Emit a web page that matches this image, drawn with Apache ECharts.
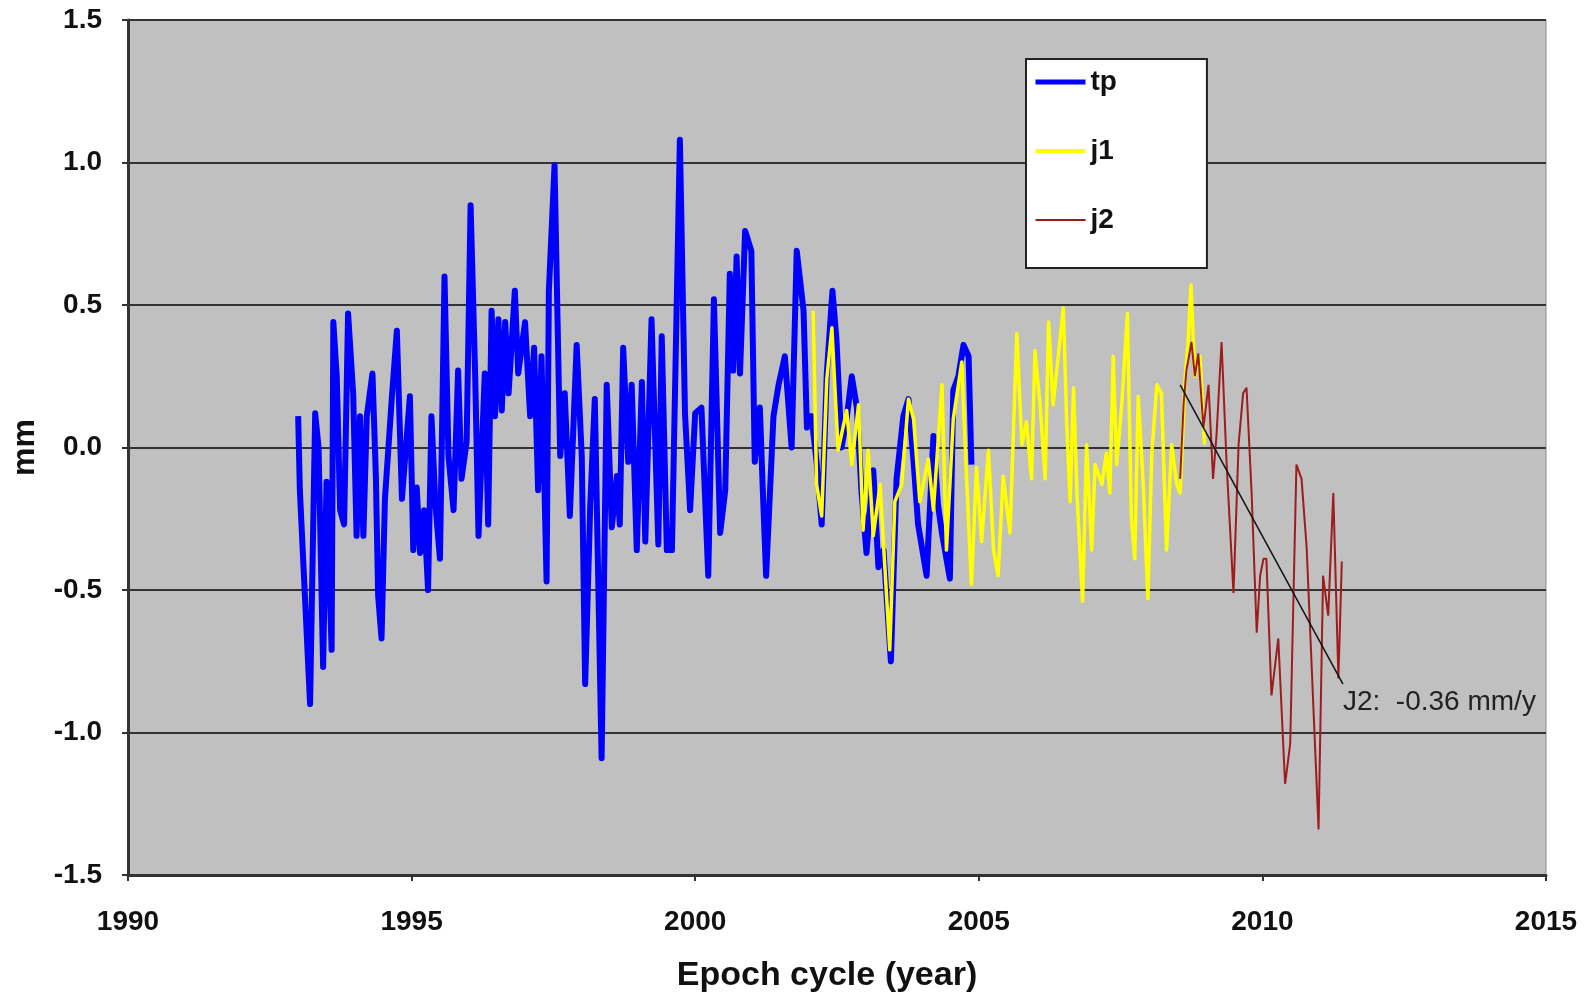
<!DOCTYPE html>
<html>
<head>
<meta charset="utf-8">
<title>Epoch cycle</title>
<script src="https://cdn.jsdelivr.net/npm/echarts@6/dist/echarts.min.js"></script>
<style>
  html, body { margin: 0; padding: 0; background: #fff; }
  #chart { width: 1585px; height: 992px; }
</style>
</head>
<body>
<div id="chart"></div>
<script>
// values (year, mm)
const tpX = [1993.00, 1993.03, 1993.21, 1993.30, 1993.36, 1993.44, 1993.50, 1993.59, 1993.62, 1993.68,
  1993.74, 1993.81, 1993.88, 1993.97, 1994.03, 1994.09, 1994.15, 1994.21, 1994.31, 1994.37,
  1994.41, 1994.47, 1994.53, 1994.65, 1994.74, 1994.83, 1994.97, 1995.03, 1995.09, 1995.15,
  1995.22, 1995.29, 1995.35, 1995.42, 1995.50, 1995.58, 1995.65, 1995.74, 1995.82, 1995.88,
  1995.97, 1996.04, 1996.12, 1996.18, 1996.29, 1996.35, 1996.41, 1996.47, 1996.53, 1996.59,
  1996.65, 1996.71, 1996.82, 1996.88, 1997.00, 1997.09, 1997.16, 1997.23, 1997.29, 1997.38,
  1997.42, 1997.52, 1997.62, 1997.70, 1997.79, 1997.91, 1998.00, 1998.06, 1998.15, 1998.23,
  1998.35, 1998.44, 1998.53, 1998.62, 1998.67, 1998.73, 1998.82, 1998.88, 1998.97, 1999.06,
  1999.12, 1999.23, 1999.35, 1999.41, 1999.50, 1999.59, 1999.73, 1999.82, 1999.91, 2000.00,
  2000.11, 2000.23, 2000.33, 2000.44, 2000.53, 2000.61, 2000.67, 2000.73, 2000.79, 2000.88,
  2000.99, 2001.05, 2001.14, 2001.19, 2001.25, 2001.38, 2001.47, 2001.58, 2001.70, 2001.79,
  2001.91, 2001.97, 2002.05, 2002.14, 2002.23, 2002.32, 2002.42, 2002.49, 2002.58, 2002.67,
  2002.76, 2002.85, 2002.93, 2003.02, 2003.14, 2003.23, 2003.32, 2003.45, 2003.55, 2003.67,
  2003.76, 2003.85, 2003.93, 2004.08, 2004.20, 2004.28, 2004.35, 2004.49, 2004.55, 2004.64,
  2004.73, 2004.82, 2004.87];
const tpY = [0.11, -0.15, -0.90, 0.12, 0.00, -0.77, -0.12, -0.71, 0.44, 0.25,
  -0.22, -0.27, 0.47, 0.19, -0.31, 0.11, -0.31, 0.11, 0.26, -0.10,
  -0.52, -0.67, -0.18, 0.17, 0.41, -0.18, 0.18, -0.36, -0.14, -0.37,
  -0.22, -0.50, 0.11, -0.20, -0.39, 0.60, -0.03, -0.22, 0.27, -0.11,
  0.02, 0.85, 0.26, -0.31, 0.26, -0.27, 0.48, 0.11, 0.45, 0.13,
  0.44, 0.19, 0.55, 0.26, 0.44, 0.11, 0.35, -0.15, 0.32, -0.47,
  0.55, 0.99, -0.03, 0.19, -0.24, 0.36, -0.03, -0.83, -0.20, 0.17,
  -1.09, 0.22, -0.28, -0.10, -0.27, 0.35, -0.05, 0.22, -0.36, 0.23,
  -0.33, 0.45, -0.34, 0.39, -0.36, -0.36, 1.08, 0.12, -0.22, 0.12,
  0.14, -0.45, 0.52, -0.30, -0.15, 0.61, 0.27, 0.67, 0.26, 0.76,
  0.69, -0.05, 0.14, -0.14, -0.45, 0.11, 0.22, 0.32, 0.00, 0.69,
  0.48, 0.07, 0.11, -0.05, -0.27, 0.26, 0.55, 0.38, 0.00, 0.10,
  0.25, 0.14, -0.15, -0.37, -0.08, -0.42, -0.36, -0.75, -0.11, 0.11,
  0.17, -0.05, -0.27, -0.45, 0.04, -0.20, -0.30, -0.46, 0.20, 0.25,
  0.36, 0.32, -0.06];

const j1X = [2002.08, 2002.14, 2002.23, 2002.32, 2002.41, 2002.52, 2002.67, 2002.76, 2002.88, 2002.96,
  2003.05, 2003.14, 2003.26, 2003.32, 2003.43, 2003.52, 2003.64, 2003.76, 2003.85, 2003.96,
  2004.11, 2004.20, 2004.35, 2004.43, 2004.55, 2004.70, 2004.79, 2004.87, 2004.96, 2005.05,
  2005.17, 2005.26, 2005.34, 2005.43, 2005.55, 2005.67, 2005.76, 2005.84, 2005.93, 2005.99,
  2006.08, 2006.17, 2006.23, 2006.31, 2006.40, 2006.49, 2006.55, 2006.61, 2006.67, 2006.73,
  2006.83, 2006.90, 2006.99, 2007.05, 2007.17, 2007.25, 2007.31, 2007.37, 2007.43, 2007.52,
  2007.62, 2007.69, 2007.75, 2007.81, 2007.90, 2007.98, 2008.05, 2008.14, 2008.22, 2008.31,
  2008.40, 2008.49, 2008.55, 2008.64, 2008.69, 2008.74, 2008.81, 2008.90, 2008.98];
const j1Y = [0.48, -0.13, -0.24, 0.24, 0.42, -0.01, 0.13, -0.06, 0.15, -0.29,
  -0.01, -0.31, -0.13, -0.34, -0.71, -0.19, -0.13, 0.17, 0.10, -0.19,
  -0.04, -0.22, 0.22, -0.36, 0.10, 0.30, -0.13, -0.48, -0.07, -0.33,
  -0.01, -0.36, -0.45, -0.10, -0.30, 0.40, 0.01, 0.09, -0.11, 0.34,
  0.15, -0.11, 0.44, 0.15, 0.32, 0.49, 0.08, -0.19, 0.21, -0.16,
  -0.54, 0.01, -0.36, -0.06, -0.13, -0.02, -0.16, 0.32, -0.06, 0.15,
  0.47, -0.25, -0.39, 0.18, -0.13, -0.53, -0.02, 0.22, 0.19, -0.36,
  0.01, -0.13, -0.16, 0.25, 0.37, 0.57, 0.25, 0.32, 0.01];

const j2X = [2008.55, 2008.61, 2008.66, 2008.75, 2008.81, 2008.87, 2008.96, 2009.05, 2009.13, 2009.19,
  2009.28, 2009.37, 2009.49, 2009.58, 2009.66, 2009.72, 2009.81, 2009.90, 2009.96, 2010.02,
  2010.07, 2010.16, 2010.28, 2010.40, 2010.49, 2010.60, 2010.69, 2010.78, 2010.99, 2011.07,
  2011.16, 2011.25, 2011.34, 2011.40];
const j2Y = [-0.11, 0.15, 0.27, 0.37, 0.25, 0.33, 0.07, 0.22, -0.11, 0.04,
  0.37, -0.06, -0.51, 0.01, 0.19, 0.21, -0.16, -0.65, -0.45, -0.39,
  -0.39, -0.87, -0.67, -1.18, -1.04, -0.06, -0.11, -0.35, -1.34, -0.45,
  -0.59, -0.16, -0.81, -0.40];

// linear fit drawn over j2
const trendX = [2008.55, 2011.42];
const trendY = [0.22, -0.83];
const trendLabel = 'J2:  -0.36 mm/y';

const xTicks = { min: 1990, max: 2015, step: 5 };
const yTicks = { min: -1.5, max: 1.5, step: 0.5 };

function pairs(xs, ys) {
  return xs.map((x, i) => [x, ys[i]]);
}

const font = "'Liberation Sans', Arial, Helvetica, sans-serif";

const chart = echarts.init(document.getElementById('chart'));
chart.setOption({
  animation: false,
  backgroundColor: '#ffffff',
  textStyle: { fontFamily: font, color: '#000' },
  grid: {
    left: 128,
    right: 39,
    top: 20,
    bottom: 117,
    containLabel: false,
    outerBoundsMode: 'none',
    show: true,
    backgroundColor: '#c0c0c0',
    borderColor: '#8a8a8a',
    borderWidth: 1
  },
  legend: {
    orient: 'vertical',
    left: 1026,
    top: 59,
    data: [
      { name: 'tp', lineStyle: { width: 5 } },
      { name: 'j1', lineStyle: { width: 4 } },
      { name: 'j2', lineStyle: { width: 2 } }
    ],
    itemWidth: 50,
    itemHeight: 10,
    itemGap: 39,
    padding: [8, 90, 33, 7],
    itemStyle: { opacity: 0 },
    backgroundColor: '#ffffff',
    borderColor: '#222',
    borderWidth: 2,
    textStyle: { fontFamily: font, fontWeight: 'bold', fontSize: 28, lineHeight: 30, color: '#111' }
  },
  xAxis: {
    type: 'value',
    min: xTicks.min,
    max: xTicks.max,
    interval: xTicks.step,
    name: 'Epoch cycle (year)',
    nameLocation: 'middle',
    nameGap: 84,
    nameTextStyle: {
      fontFamily: font, fontWeight: 'bold', fontSize: 34, color: '#111',
      padding: [0, 20, 0, 0]
    },
    axisLine: { show: true, onZero: false, lineStyle: { color: '#333', width: 3 } },
    axisTick: { show: true, length: 6, lineStyle: { color: '#333', width: 2 } },
    axisLabel: {
      fontFamily: font, fontWeight: 'bold', fontSize: 28, color: '#111', margin: 33,
      formatter: v => String(v)
    },
    splitLine: { show: false }
  },
  yAxis: {
    type: 'value',
    min: yTicks.min,
    max: yTicks.max,
    interval: yTicks.step,
    name: 'mm',
    nameLocation: 'middle',
    nameGap: 87,
    nameTextStyle: { fontFamily: font, fontWeight: 'bold', fontSize: 32, color: '#111' },
    axisLine: { show: true, onZero: false, lineStyle: { color: '#333', width: 3 } },
    axisTick: { show: true, length: 6, lineStyle: { color: '#333', width: 2 } },
    axisLabel: {
      fontFamily: font, fontWeight: 'bold', fontSize: 28, color: '#111', margin: 26,
      formatter: v => v.toFixed(1)
    },
    splitLine: { show: true, lineStyle: { color: '#333', width: 2 } }
  },
  series: [
    {
      name: 'tp',
      type: 'line',
      data: pairs(tpX, tpY),
      symbol: 'none',
      color: '#0000ff',
      lineStyle: { color: '#0000ff', width: 6, join: 'round' }
    },
    {
      name: 'j1',
      type: 'line',
      data: pairs(j1X, j1Y),
      symbol: 'none',
      color: '#ffff00',
      lineStyle: { color: '#ffff00', width: 3.5, join: 'round' }
    },
    {
      name: 'j2',
      type: 'line',
      data: pairs(j2X, j2Y),
      symbol: 'none',
      color: '#9e1c1c',
      lineStyle: { color: '#9e1c1c', width: 2 }
    },
    {
      name: 'trend',
      type: 'line',
      data: pairs(trendX, trendY),
      symbol: 'none',
      color: '#111',
      lineStyle: { color: '#111', width: 1.5 },
      endLabel: {
        show: true,
        formatter: trendLabel,
        fontFamily: font,
        fontSize: 28,
        color: '#222',
        offset: [-8, 18]
      }
    }
  ]
});
</script>
</body>
</html>
